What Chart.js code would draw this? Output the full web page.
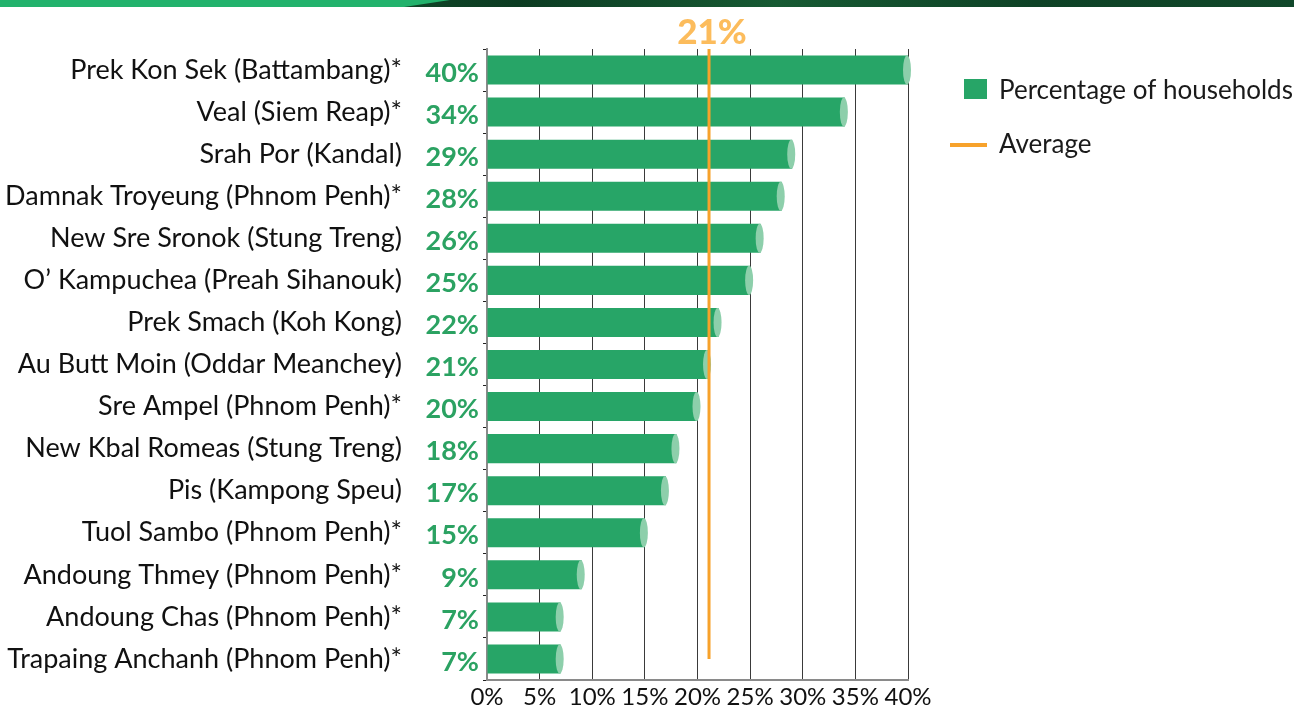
<!DOCTYPE html>
<html>
<head>
<meta charset="utf-8">
<script src="https://cdn.jsdelivr.net/npm/chart.js@4/dist/chart.umd.min.js"></script>
<style>
  html, body { margin: 0; padding: 0; background: #fff; }
  #banner { position: absolute; left: 0; top: 0; width: 1294px; height: 7px; background: #22b26c; }
  #banner-dark { position: absolute; left: 0; top: 0; width: 1294px; height: 7px;
    background: linear-gradient(90deg, #0b3a21 0%, #14502e 20%, #0c3c22 40%, #175a33 60%, #0e4226 80%, #11482a 100%);
    clip-path: polygon(450px 0, 1294px 0, 1294px 7px, 404px 7px); }
  #wrap { position: absolute; left: 0; top: 0; width: 1294px; height: 708px; }
</style>
</head>
<body>
<div id="wrap"><canvas id="chart" width="1294" height="708"></canvas></div>
<div id="banner"></div>
<div id="banner-dark"></div>
<script>
const GREEN = "#27a567";
const LIGHT_GREEN = "#8dcfab";
const LABEL_GREEN = "#2ba262";
const ORANGE = "#f7a22b";
const LIGHT_ORANGE = "#fcbc5c";
const FONT = "Lato";

const communities = [
  "Prek Kon Sek (Battambang)*",
  "Veal (Siem Reap)*",
  "Srah Por (Kandal)",
  "Damnak Troyeung (Phnom Penh)*",
  "New Sre Sronok (Stung Treng)",
  "O\u2019 Kampuchea (Preah Sihanouk)",
  "Prek Smach (Koh Kong)",
  "Au Butt Moin (Oddar Meanchey)",
  "Sre Ampel (Phnom Penh)*",
  "New Kbal Romeas (Stung Treng)",
  "Pis (Kampong Speu)",
  "Tuol Sambo (Phnom Penh)*",
  "Andoung Thmey (Phnom Penh)*",
  "Andoung Chas (Phnom Penh)*",
  "Trapaing Anchanh (Phnom Penh)*"
];
const households = [40, 34, 29, 28, 26, 25, 22, 21, 20, 18, 17, 15, 9, 7, 7];
const average = 21;
const xTicks = [0, 5, 10, 15, 20, 25, 30, 35, 40];

// value labels, cylinder caps, average line and legend
const decorations = {
  id: "decorations",
  afterDatasetsDraw(chart) {
    const ctx = chart.ctx;
    const x = chart.scales.x;
    const y = chart.scales.y;
    const meta = chart.getDatasetMeta(0);

    ctx.save();
    meta.data.forEach((bar, i) => {
      const h = bar.height;
      ctx.fillStyle = LIGHT_GREEN;
      ctx.beginPath();
      ctx.ellipse(bar.x - 1, bar.y, 4, h / 2, 0, 0, Math.PI * 2);
      ctx.fill();

      ctx.fillStyle = LABEL_GREEN;
      ctx.font = `bold 27px ${FONT}`;
      ctx.textAlign = "right";
      ctx.textBaseline = "middle";
      ctx.fillText(`${households[i]}%`, x.left - 8, y.getPixelForValue(i) + 3);
    });

    const ax = x.getPixelForValue(average);
    ctx.strokeStyle = ORANGE;
    ctx.lineWidth = 3;
    ctx.beginPath();
    ctx.moveTo(ax + 1, chart.chartArea.top);
    ctx.lineTo(ax + 1, y.getPixelForValue(communities.length - 1));
    ctx.stroke();

    ctx.fillStyle = LIGHT_ORANGE;
    ctx.font = `900 35px ${FONT}`;
    ctx.textAlign = "center";
    ctx.textBaseline = "middle";
    ctx.fillText(`${average}%`, ax + 4, 33);

    // legend
    ctx.fillStyle = GREEN;
    ctx.fillRect(964, 79, 23, 20);
    ctx.strokeStyle = ORANGE;
    ctx.lineWidth = 4;
    ctx.beginPath();
    ctx.moveTo(950, 145);
    ctx.lineTo(987, 145);
    ctx.stroke();
    ctx.fillStyle = "#1a1a1a";
    ctx.font = `26px ${FONT}`;
    ctx.textAlign = "left";
    ctx.fillText("Percentage of households", 999, 91);
    ctx.fillText("Average", 999, 145);
    ctx.restore();
  }
};

new Chart("chart", {
  type: "bar",
  data: {
    labels: communities,
    datasets: [{
      label: "Percentage of households",
      data: households,
      backgroundColor: GREEN,
      categoryPercentage: 1,
      barPercentage: 0.69
    }]
  },
  options: {
    indexAxis: "y",
    responsive: false,
    animation: false,
    events: [],
    layout: { padding: { top: 49, right: 386, left: 0, bottom: 0 } },
    plugins: { legend: { display: false }, tooltip: { enabled: false } },
    scales: {
      x: {
        min: 0,
        max: 40,
        afterBuildTicks: axis => { axis.ticks = xTicks.map(v => ({ value: v })); },
        afterFit: axis => { axis.height = 28; axis.paddingLeft = 0; axis.paddingRight = 0; },
        grid: { color: "#3a3a3a", lineWidth: 1, drawTicks: false },
        border: { color: "#8a8a8a", width: 2 },
        ticks: {
          padding: 3,
          color: "#111",
          maxRotation: 0,
          font: { family: FONT, size: 24 },
          callback: v => `${v}%`
        }
      },
      y: {
        afterFit: axis => { axis.width = 487; axis.paddingTop = 0; axis.paddingBottom = 0; },
        grid: { drawOnChartArea: false, drawTicks: true, tickLength: 4, color: "#222" },
        border: { color: "#8a8a8a", width: 2 },
        ticks: {
          padding: 81,
          color: "#111",
          font: { family: FONT, size: 27 }
        }
      }
    }
  },
  plugins: [decorations]
});
</script>
</body>
</html>
